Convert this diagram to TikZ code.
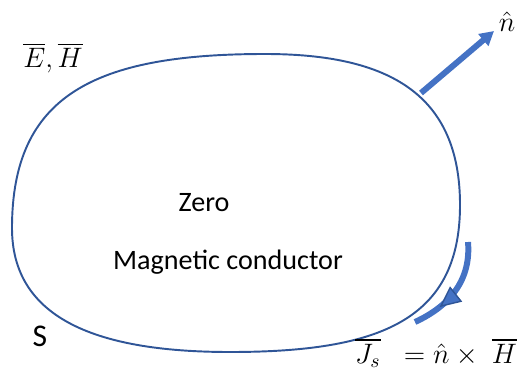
\RequirePackage{fix-cm}
\documentclass[tikz,border=0pt]{standalone}
\usepackage{amsmath}
\usepackage{fontspec}
\setmainfont{Carlito}
\usepackage{tikz}
\usetikzlibrary{arrows.meta,decorations.markings}
\definecolor{lineblue}{HTML}{2F5597}
\definecolor{arrowblue}{HTML}{4472C4}
\tikzset{
  boundary/.style={draw=lineblue, line width=1.1pt},
  label/.style={font=\fontsize{16}{19}\selectfont, inner sep=1pt},
  normalvec/.style={draw=arrowblue, line width=3.4pt,
    -{Triangle[length=8pt, width=8.5pt]}},
  current/.style={draw=arrowblue, line width=3.4pt,
    postaction={decorate}, decoration={markings, mark=at position 0.72 with
      {\arrow{Triangle[length=12pt, width=11pt, fill=arrowblue, color=lineblue, line width=0.8pt]}}}},
}

\begin{document}
\begin{tikzpicture}[x=0.02cm, y=-0.02cm]
  \useasboundingbox (0,0) rectangle (519,371);
  % surface S
  \coordinate (sl) at (12,228);
  \coordinate (st) at (265,54);
  \coordinate (sr) at (460,205);
  \coordinate (sb) at (230,352);
  \draw[boundary] (sl) .. controls (12,95) and (95,54) .. (st)
    .. controls (390,54) and (460,95) .. (sr)
    .. controls (460,320) and (380,352) .. (sb)
    .. controls (90,352) and (12,315) .. (sl) -- cycle;
  % texts
  \node[label] (fields) at (53,58) {$\overline{E},\overline{H}$};
  \node[label] (zero) at (204,203) {Zero};
  \node[label] (mc) at (228,262) {Magnetic conductor};
  \node[label, font=\fontsize{18}{21}\selectfont] (surf) at (40,336) {S};
  \node[label] (nhat) at (507,22) {$\hat{n}$};
  \node[label] (js) at (436,353) {$\overline{J_s}\;\;=\hat{n}\times\;\overline{H}$};
  % normal vector
  \coordinate (nbase) at (421,93);
  \coordinate (ntip) at (494,31);
  \draw[normalvec] (nbase) -- (ntip);
  % surface current
  \coordinate (jstart) at (468,242);
  \coordinate (jend) at (415,322);
  \draw[current] (jstart) .. controls (471,278) and (452,305) .. (jend);
\end{tikzpicture}
\end{document}
